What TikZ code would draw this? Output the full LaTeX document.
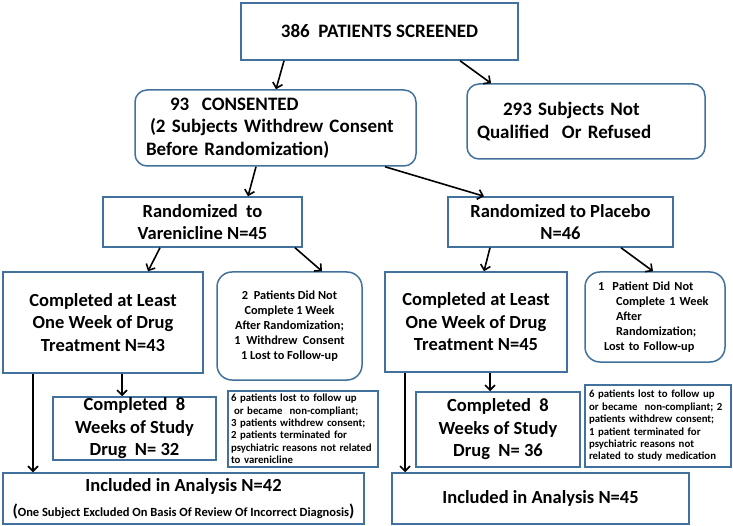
\documentclass[tikz,border=0pt]{standalone}
\usepackage{fontspec}
\setmainfont{Carlito}
\usetikzlibrary{arrows.meta}
\definecolor{boxblue}{HTML}{41719C}

\newcommand{\bigtxt}{\bfseries\fontsize{19}{22.5}\selectfont}
\newcommand{\midtxt}{\bfseries\fontsize{18.5}{22.5}\selectfont}
\newcommand{\sidetxt}{\bfseries\fontsize{12.3}{15}\selectfont}
\newcommand{\notetxt}{\bfseries\fontsize{10.8}{12.4}\selectfont}
\newcommand{\parentxt}{\bfseries\fontsize{12.5}{14}\selectfont}

\tikzset{
	mybox/.style = {rectangle, draw=boxblue, line width=1.5pt, align=center, inner sep=0pt},
	myround/.style = {mybox, rounded corners=12pt},
	myedge/.style = {draw=black, line width=1.6pt, -{Straight Barb[length=5pt,width=10pt]}}
}

\begin{document}
\begin{tikzpicture}[x=1pt,y=-1pt]
				\useasboundingbox (0,0) rectangle (733,526);
				\node[mybox, minimum width=277pt, minimum height=57pt, font=\bigtxt] at (379.5,31.5) (scr) {386\ \ PATIENTS SCREENED};
				\node[myround, align=left, inner xsep=11pt, text width=259pt, minimum height=76pt, font=\bigtxt] at (275.5,128) (cons) {\hspace*{24pt}93\ \ CONSENTED\\\hspace*{4pt}(2 Subjects Withdrew Consent\\Before Randomization)};
				\node[myround, align=left, inner xsep=10pt, text width=218pt, minimum height=75pt, font=\bigtxt] at (586,121.5) (refused) {\hspace*{26pt}293 Subjects Not\\Qualified\ \ Or Refused};
				\node[mybox, minimum width=199pt, minimum height=50pt, font=\midtxt] at (202.5,222) (randv) {Randomized\ \ to\\Varenicline N=45};
				\node[mybox, minimum width=225pt, minimum height=50pt, font=\midtxt] at (560.5,222) (randp) {Randomized to Placebo\\N=46};
				\node[mybox, minimum width=200pt, minimum height=101pt, font=\midtxt] at (103,322.5) (weekv) {Completed at Least\\One Week of Drug\\Treatment N=43};
				\node[myround, rounded corners=15pt, minimum width=145pt, minimum height=108pt, font=\sidetxt] at (289.5,326) (dropv) {2\ \ Patients Did Not\\Complete 1 Week\\After Randomization;\\1\ \ Withdrew\ \ Consent\\1 Lost to Follow-up};
				\node[mybox, minimum width=182pt, minimum height=100pt, font=\midtxt] at (476,322) (weekp) {Completed at Least\\One Week of Drug\\Treatment N=45};
				\node[myround, rounded corners=15pt, align=left, inner xsep=13pt, text width=114pt, minimum height=90pt, font=\sidetxt] at (655,317) (dropp) {1\ \ Patient Did Not\\\hspace*{18pt}Complete 1 Week\\\hspace*{18pt}After\\\hspace*{18pt}Randomization;\\\hspace*{6pt}Lost to Follow-up};
				\node[mybox, minimum width=163pt, minimum height=63pt, font=\midtxt] at (134.5,428.5) (eightv) {Completed\ \ 8\\Weeks of Study\\Drug\ \ N= 32};
				\node[mybox, minimum width=164pt, minimum height=75pt, font=\midtxt] at (498,429.5) (eightp) {Completed\ \ 8\\Weeks of Study\\Drug\ \ N= 36};
				\node[mybox, align=left, inner xsep=3pt, text width=144pt, minimum height=76pt, font=\notetxt] at (303,429) (notev) {6 patients lost to follow up\\\hspace*{3pt}or became\ \ non-compliant;\\3 patients withdrew consent;\\2 patients terminated for\\psychiatric reasons not related\\to varenicline};
				\node[mybox, align=left, inner xsep=4pt, text width=138pt, minimum height=82pt, font=\notetxt] at (658,426) (notep) {6 patients lost to follow up\\or became\ \ non-compliant;~2\\patients withdrew consent;\\1 patient terminated for\\psychiatric reasons not\\related to study medication};
				\node[mybox, minimum width=361pt, minimum height=51pt, font=\midtxt] at (183.5,498.5) (anav) {Included in Analysis N=42\\[2.5pt]{\parentxt{\fontsize{17}{17}\selectfont(}One Subject Excluded On Basis Of Review Of Incorrect Diagnosis{\fontsize{17}{17}\selectfont)}}};
				\node[mybox, minimum width=297pt, minimum height=51pt, font=\midtxt] at (540.5,498.5) (anap) {Included in Analysis N=45};
				\path ([xshift=-95.5pt]scr.south) edge [myedge] ([xshift=0.5pt]cons.north);
				\path ([xshift=80.5pt]scr.south) edge [myedge] ([xshift=-95pt]refused.north);
				\path ([xshift=-19.5pt]cons.south) edge [myedge] ([xshift=45.5pt]randv.north);
				\path ([xshift=109.5pt]cons.south) edge [myedge] ([xshift=-76.5pt]randp.north);
				\path ([xshift=-42.5pt]randv.south) edge [myedge] ([xshift=45pt]weekv.north);
				\path ([xshift=92.5pt]randv.south) edge [myedge] ([xshift=32.5pt]dropv.north);
				\path ([xshift=-70.5pt]randp.south) edge [myedge] ([xshift=8pt]weekp.north);
				\path ([xshift=60.5pt]randp.south) edge [myedge] ([xshift=-2pt]dropp.north);
				\path ([xshift=19pt]weekv.south) edge [myedge] ([xshift=-12.5pt]eightv.north);
				\path ([xshift=-70pt]weekv.south) edge [myedge] ([xshift=-150.5pt]anav.north);
				\path ([xshift=14pt]weekp.south) edge [myedge] ([xshift=-8pt]eightp.north);
				\path ([xshift=-71pt]weekp.south) edge [myedge] ([xshift=-135.5pt]anap.north);
			\end{tikzpicture}
\end{document}
